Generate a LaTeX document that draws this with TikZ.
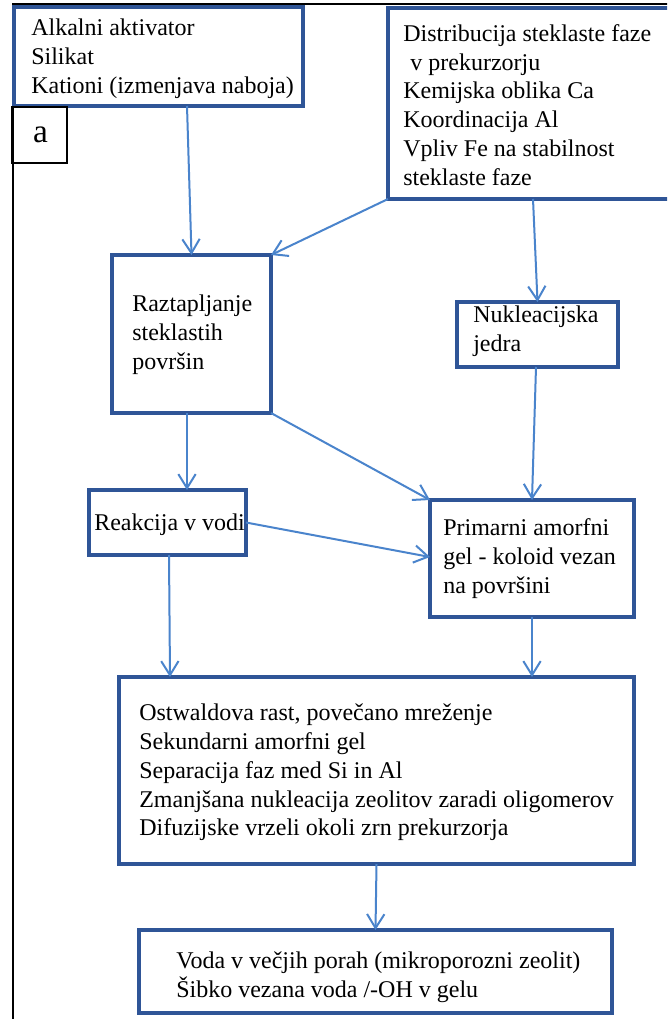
\documentclass[tikz,border=0pt]{standalone}
\usepackage{fontspec}
\setmainfont{Liberation Serif}
\usetikzlibrary{arrows.meta,calc}
\definecolor{boxblue}{RGB}{47,85,151}
\definecolor{arrblue}{RGB}{74,132,204}
\begin{document}
\begin{tikzpicture}[x=0.75pt,y=-0.75pt,
  box/.style={draw=boxblue, line width=2.8pt, inner sep=0pt, outer sep=0pt},
  wh/.style 2 args={minimum width=#1*0.75pt, minimum height=#2*0.75pt},
  txt/.style={anchor=west, align=left, inner sep=0pt, text=black,
    font=\fontsize{18}{21.6}\selectfont},
  arr/.style={draw=arrblue, line width=1.5pt, -{Straight Barb[length=10.5pt,width=13pt,line width=1.5pt]}}]
\useasboundingbox (0,0) rectangle (667,1019);
\clip (0,0) rectangle (667,1019);
\fill[white] (0,0) rectangle (667,1019);
% outer frame
\draw[black, line width=1.5pt] (12.5,1040) |- (690,4);
% boxes
\node[box, wh={289}{99}]  (A) at (158.5,56.5) {};
\node[box, wh={282}{191}] (B) at (529,103.5) {};
\node[draw=black, line width=1pt, inner sep=0pt, wh={55}{56}] (abox) at (39.5,135) {};
\node[box, wh={159}{158}] (C) at (191.5,334) {};
\node[box, wh={161}{65}]  (D) at (537.5,334.5) {};
\node[box, wh={157}{65}]  (E) at (167.5,522.5) {};
\node[box, wh={204}{117}] (F) at (532,558.5) {};
\node[box, wh={515}{187}] (G) at (376.5,770.5) {};
\node[box, wh={473}{83}]  (H) at (375.5,971.5) {};
% texts
\node[txt] (tA) at (31,59) {Alkalni aktivator\\Silikat\\Kationi (izmenjava naboja)};
\node[txt] (tB) at (403,105) {Distribucija steklaste faze\\\hspace{0.3em}v prekurzorju\\Kemijska oblika Ca\\Koordinacija Al\\Vpliv Fe na stabilnost\\steklaste faze};
\node[inner sep=0pt, font=\fontsize{25}{30}\selectfont] (ta) at (40.5,135) {a};
\node[txt] (tC) at (132,334.5) {Raztapljanje\\steklastih\\površin};
\node[txt] (tD) at (473,331) {Nukleacijska\\jedra};
\node[txt] (tE) at (94,525) {Reakcija v vodi};
\node[txt] (tF) at (443,558.5) {Primarni amorfni\\gel - koloid vezan\\na površini};
\node[txt] (tG) at (139,772.5) {Ostwaldova rast, povečano mreženje\\Sekundarni amorfni gel\\Separacija faz med Si in Al\\Zmanjšana nukleacija zeolitov zaradi oligomerov\\Difuzijske vrzeli okoli zrn prekurzorja};
\node[txt] (tH) at (176,977) {Voda v večjih porah (mikroporozni zeolit)\\Šibko vezana voda /-OH v gelu};
% connectors
\draw[arr] ($(A.south)+(28.5,0)$) -- (C.north);
\draw[arr] (B.south west) -- (C.north east);
\draw[arr] ($(B.south)+(4,0)$) -- (D.north);
\draw[arr] ($(C.south)+(-4.5,0)$) -- ($(E.north)+(19.5,0)$);
\draw[arr] (C.south east) -- (F.north west);
\draw[arr] ($(D.south)+(-1.5,0)$) -- (F.north);
\draw[arr] (E.east) -- ($(F.west)+(0,-1.5)$);
\draw[arr] ($(E.south)+(1.5,0)$) -- ($(G.north west)+(51,0)$);
\draw[arr] (F.south) -- ($(G.north west)+(413,0)$);
\draw[arr] (G.south) -- (H.north);
\end{tikzpicture}
\end{document}
